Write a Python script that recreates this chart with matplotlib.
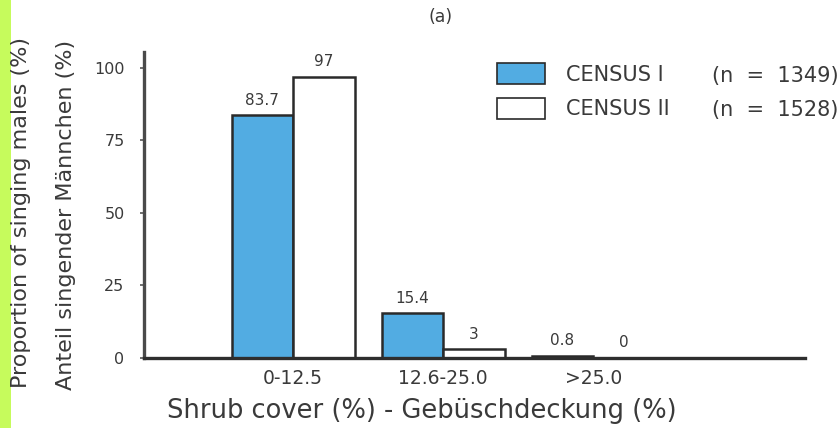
import matplotlib
matplotlib.use("Agg")
import matplotlib.pyplot as plt
from matplotlib.patches import Patch
import numpy as np

categories = ["0-12.5", "12.6-25.0", ">25.0"]
census1 = [83.7, 15.4, 0.8]
census2 = [97, 3, 0]
census1_lbl = ["83.7", "15.4", "0.8"]
census2_lbl = ["97", "3", "0"]
series_names = ["CENSUS I", "CENSUS II"]
series_n = ["(n  =  1349)", "(n  =  1528)"]
yticks = [0, 25, 50, 75, 100]

plt.rcParams['font.family'] = ['DejaVu Sans']

fig = plt.figure(figsize=(8.4, 4.28), dpi=100)
fig.patch.set_facecolor("white")
# green strip on the left
fig.patches.append(plt.Rectangle((0, 0), 11/840, 1, transform=fig.transFigure,
                                 facecolor="#c6fb5c", edgecolor="none", zorder=0))

ax = fig.add_axes([144/840, 1-358/428, (805-144)/840, (358-52)/428])
x = np.arange(len(categories))
w = 0.41
blue = "#52ace2"
edge = "#2a2a2a"
txt = "#3a3a3a"
ax.bar(x - w/2, census1, w, color=blue, edgecolor=edge, linewidth=1.8)
ax.bar(x + w/2, census2, w, color="white", edgecolor=edge, linewidth=1.8)

for xi, v, s in zip(x - w/2, census1, census1_lbl):
    ax.text(xi, v + 2.6, s, ha="center", va="bottom", fontsize=11, color=txt)
for xi, v, s in zip(x + w/2, census2, census2_lbl):
    ax.text(xi, v + 2.6, s, ha="center", va="bottom", fontsize=11, color=txt)

ax.set_xlim(-0.993, 3.41)
ax.set_ylim(0, 105.5)
ax.set_xticks(x)
ax.set_xticklabels(categories, fontsize=13.5, color=txt)
ax.set_yticks(yticks)
ax.set_yticklabels([str(t) for t in yticks], fontsize=11.5, color=txt)
ax.tick_params(axis="x", length=0, pad=8)
ax.tick_params(axis="y", length=3, width=1.2, color="#555555", pad=11)
for s in ["top", "right"]:
    ax.spines[s].set_visible(False)
ax.spines["left"].set_linewidth(2.4)
ax.spines["left"].set_color("#4a4a4a")
ax.spines["bottom"].set_linewidth(2.4)
ax.spines["bottom"].set_color("#2e2e2e")

ax.set_xlabel("Shrub cover (%) - Gebüschdeckung (%)", fontsize=18.5, color=txt)
ax.xaxis.set_label_coords((422-144)/661, -(411-358)/306)
ax.xaxis.label.set_va("center")
fig.text(21/840, 1-212/428, "Proportion of singing males (%)", rotation=90,
         ha="center", va="center", fontsize=16, color=txt)
fig.text(66/840, 1-215/428, "Anteil singender Männchen (%)", rotation=90,
         ha="center", va="center", fontsize=16, color=txt)
fig.text(441/840, 1-17/428, "(a)", ha="center", va="center", fontsize=12.5, color=txt)

handles = [Patch(facecolor=blue, edgecolor=edge, linewidth=1.2),
           Patch(facecolor="white", edgecolor=edge, linewidth=1.2)]
leg = ax.legend(handles, series_names, loc="upper left", bbox_to_anchor=(353/661, 1.0 - 11/306),
                frameon=False, fontsize=15, handlelength=2.3, handleheight=1.2,
                labelspacing=0.62, handletextpad=1.0, borderaxespad=0.0, borderpad=0.0)
for t in leg.get_texts():
    t.set_color(txt)
for i, s in enumerate(series_n):
    fig.text(712/840, 1-(76 + 34*i)/428, s, ha="left", va="center",
             fontsize=15, color=txt)

fig.savefig("out.png", dpi=100)
